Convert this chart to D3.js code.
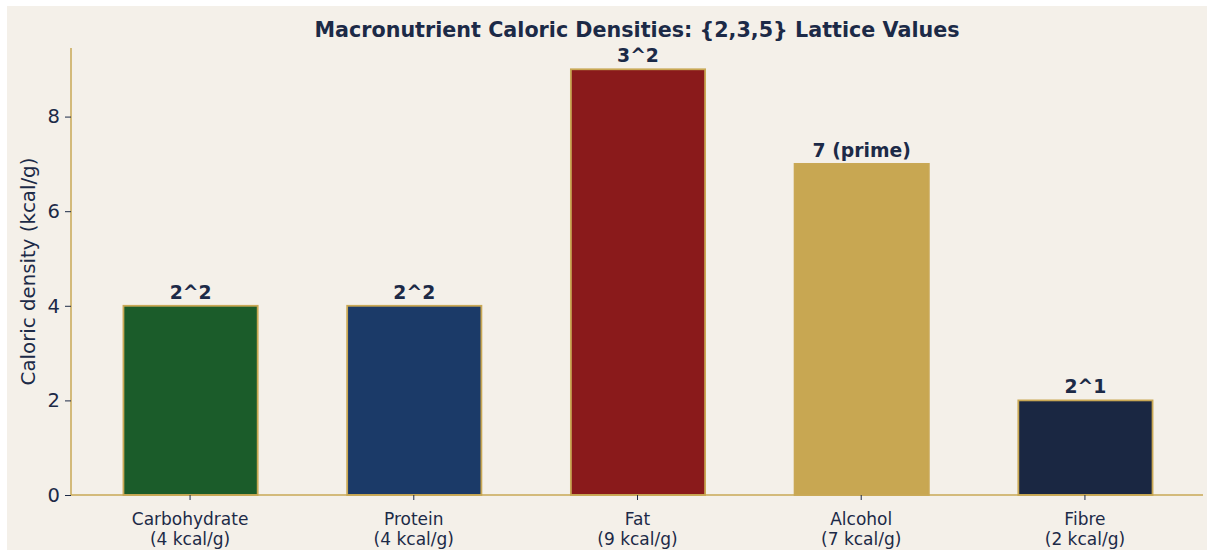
<!DOCTYPE html>
<html>
<head>
<meta charset="utf-8">
<script src="https://cdn.jsdelivr.net/npm/d3@7"></script>
<style>
  body { margin: 0; background: #ffffff; }
  text { font-family: "DejaVu Sans", sans-serif; }
</style>
</head>
<body>
<div class="chart"></div>
<script>
(function() {
  var categories = ["Carbohydrate", "Protein", "Fat", "Alcohol", "Fibre"];
  var subLabels = ["(4 kcal/g)", "(4 kcal/g)", "(9 kcal/g)", "(7 kcal/g)", "(2 kcal/g)"];
  var values = [4, 4, 9, 7, 2];
  var barLabels = ["2^2", "2^2", "3^2", "7 (prime)", "2^1"];
  var colors = ["#1b5c2a", "#1b3a68", "#8a1a1b", "#c8a752", "#1a2742"];
  var yTicks = [0, 2, 4, 6, 8];

  var
    width = 1207,
    height = 552,
    margin = {top: 48, left: 71, right: 4, bottom: 57},
    ink = "#1c2a47",
    gold = "#c9a855";

  var svg = d3.select(".chart").append("svg")
    .attr("width", width)
    .attr("height", height);

  svg.append("rect")
    .attr("x", 7).attr("y", 6)
    .attr("width", width - 7).attr("height", 544)
    .attr("fill", "#f4f0e9");

  var x = d3.scaleLinear().domain([-0.53, 4.53]).range([margin.left, width - margin.right]);
  var y = d3.scaleLinear().domain([0, 9.45]).range([height - margin.bottom, margin.top]);
  var barW = x(0.6) - x(0);

  // bars
  svg.append("g").selectAll("rect")
    .data(values)
    .enter().append("rect")
      .attr("x", function(d, i) { return x(i) - barW / 2 + 1; })
      .attr("y", function(d) { return y(d); })
      .attr("width", barW)
      .attr("height", function(d) { return y(0) - y(d); })
      .attr("fill", function(d, i) { return colors[i]; })
      .attr("stroke", gold)
      .attr("stroke-width", 1.8);

  svg.append("g").selectAll("text")
    .data(values)
    .enter().append("text")
      .attr("x", function(d, i) { return x(i) + 1; })
      .attr("y", function(d) { return y(d) - 7; })
      .attr("text-anchor", "middle")
      .attr("font-size", "18.8px")
      .attr("font-weight", "bold")
      .attr("fill", ink)
      .text(function(d, i) { return barLabels[i]; });

  // y axis
  var yAxis = svg.append("g")
    .attr("transform", "translate(" + margin.left + ",0)")
    .call(d3.axisLeft(y).tickValues(yTicks).tickSize(6).tickPadding(5));
  yAxis.select(".domain").attr("stroke", gold).attr("stroke-width", 1.5)
    .attr("d", "M0," + y(9.45) + "V" + y(0));
  yAxis.selectAll(".tick line").attr("stroke", ink);
  yAxis.selectAll(".tick text").attr("fill", ink).attr("font-size", "19.5px")
    .attr("font-family", "DejaVu Sans, sans-serif");

  // x axis
  var xAxis = svg.append("g")
    .attr("transform", "translate(0," + y(0) + ")")
    .call(d3.axisBottom(x).tickValues(d3.range(categories.length)).tickSize(5).tickFormat(""));
  xAxis.select(".domain").attr("stroke", gold).attr("stroke-width", 1.5)
    .attr("d", "M" + x(-0.53) + ",0H" + x(4.53));
  xAxis.selectAll(".tick line").attr("stroke", ink);
  var xt = xAxis.selectAll(".tick").append("text")
    .attr("fill", ink)
    .attr("font-size", "17px")
    .attr("text-anchor", "middle")
    .attr("font-family", "DejaVu Sans, sans-serif");
  xt.append("tspan").attr("x", 0).attr("y", 30).text(function(d) { return categories[d]; });
  xt.append("tspan").attr("x", 0).attr("y", 50).text(function(d) { return subLabels[d]; });

  svg.append("text")
    .attr("transform", "translate(35," + ((y(0) + y(9.45)) / 2) + ") rotate(-90)")
    .attr("text-anchor", "middle")
    .attr("font-size", "19.8px")
    .attr("fill", ink)
    .text("Caloric density (kcal/g)");

  svg.append("text")
    .attr("x", (x(-0.53) + x(4.53)) / 2)
    .attr("y", 37)
    .attr("text-anchor", "middle")
    .attr("font-size", "20.7px")
    .attr("font-weight", "bold")
    .attr("fill", ink)
    .text("Macronutrient Caloric Densities: {2,3,5} Lattice Values");
})();
</script>
</body>
</html>
